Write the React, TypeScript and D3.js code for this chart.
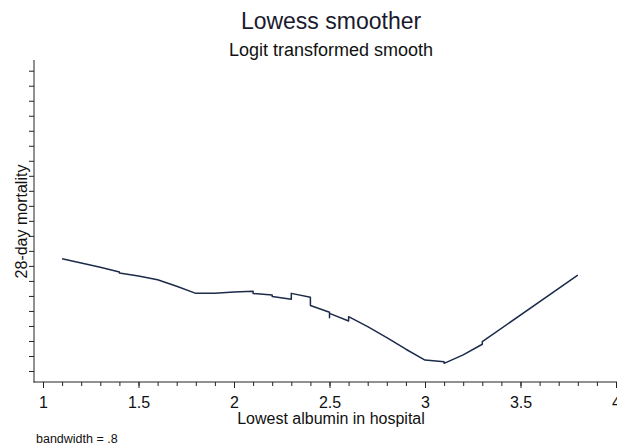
import React, { useEffect, useRef } from "react";
import * as d3 from "d3";

// lowess fit (logit scale); repeated x = steps at ties
const albumin = [1.1, 1.2, 1.3, 1.4, 1.4, 1.5, 1.6, 1.7, 1.8, 1.9, 2.0, 2.1, 2.1, 2.2, 2.2, 2.3, 2.3, 2.4, 2.4, 2.5, 2.5, 2.5, 2.6, 2.6, 2.7, 2.8, 2.9, 3.0, 3.1, 3.1, 3.2, 3.3, 3.3, 3.8];
const logitMortality = [-2.252, -2.281, -2.309, -2.341, -2.347, -2.367, -2.392, -2.436, -2.483, -2.483, -2.474, -2.469, -2.484, -2.494, -2.504, -2.522, -2.483, -2.509, -2.564, -2.609, -2.645, -2.616, -2.667, -2.638, -2.705, -2.778, -2.855, -2.927, -2.938, -2.949, -2.893, -2.822, -2.805, -2.361];

const xMajorTicks = [1, 1.5, 2, 2.5, 3, 3.5, 4];
const xTickLabels = ["1", "1.5", "2", "2.5", "3", "3.5", "4"];
const yTicks = d3.range(21).map((i) => -3 + i * 0.1);

const W = 617;
const H = 445;
const FONT = "'Liberation Sans', Arial, sans-serif";

export default function App() {
  const svgRef = useRef<SVGSVGElement>(null);

  useEffect(() => {
    const svg = d3.select(svgRef.current);
    svg.selectAll("*").remove();

    const x = d3.scaleLinear().domain([1, 4]).range([43, 616]);
    const y = d3.scaleLinear().domain([-3, -1]).range([371, 70.7]);
    const axisLeftX = 34;
    const axisBottomY = 382;

    svg.append("rect").attr("width", W).attr("height", H).attr("fill", "white");

    // titles
    svg.append("text").attr("x", 331).attr("y", 29).attr("text-anchor", "middle")
      .style("font-family", FONT).style("font-size", "23px").attr("fill", "#1a1a2e")
      .text("Lowess smoother");
    svg.append("text").attr("x", 331).attr("y", 56).attr("text-anchor", "middle")
      .style("font-family", FONT).style("font-size", "18px").attr("fill", "#111")
      .text("Logit transformed smooth");

    // y axis (ticks only, no labels)
    const gy = svg.append("g").attr("transform", `translate(${axisLeftX},0)`)
      .call(d3.axisLeft(y).tickValues(yTicks).tickSize(5).tickFormat(() => ""));
    gy.select(".domain").remove();
    gy.selectAll("line").attr("stroke", "#222");
    svg.append("line").attr("x1", axisLeftX).attr("x2", axisLeftX)
      .attr("y1", 60).attr("y2", axisBottomY + 0.5).attr("stroke", "#222");

    // x axis
    const gxMinor = svg.append("g").attr("transform", `translate(0,${axisBottomY})`)
      .call(d3.axisBottom(x).tickValues(d3.range(10, 41).map((d) => d / 10)).tickSize(4).tickFormat(() => ""));
    gxMinor.select(".domain").remove();
    gxMinor.selectAll("line").attr("stroke", "#222");

    const gx = svg.append("g").attr("transform", `translate(0,${axisBottomY})`)
      .call(d3.axisBottom(x).tickValues(xMajorTicks).tickSize(6)
        .tickFormat((d, i) => xTickLabels[i]));
    gx.select(".domain").remove();
    gx.selectAll("line").attr("stroke", "#222");
    gx.selectAll("text").attr("y", 26).attr("dy", 0)
      .style("font-family", FONT).style("font-size", "16px").attr("fill", "#111");
    svg.append("line").attr("x1", axisLeftX - 0.5).attr("x2", W)
      .attr("y1", axisBottomY).attr("y2", axisBottomY).attr("stroke", "#222");

    // axis titles
    svg.append("text").attr("x", 331).attr("y", 424).attr("text-anchor", "middle")
      .style("font-family", FONT).style("font-size", "16px").attr("fill", "#111")
      .text("Lowest albumin in hospital");
    svg.append("text").attr("transform", `translate(27,221.5) rotate(-90)`).attr("text-anchor", "middle")
      .style("font-family", FONT).style("font-size", "16px").attr("fill", "#111")
      .text("28-day mortality");

    // note
    svg.append("text").attr("x", 36).attr("y", 443)
      .style("font-family", FONT).style("font-size", "12.5px").attr("fill", "#111")
      .text("bandwidth = .8");

    // lowess line
    const line = d3.line<number>().x((d) => x(albumin[d])).y((d) => y(logitMortality[d]));
    svg.append("path").datum(d3.range(albumin.length)).attr("d", line)
      .attr("fill", "none").attr("stroke", "#1c2b4a").attr("stroke-width", 1.5)
      .attr("stroke-linejoin", "round");
  }, []);

  return (
    <svg ref={svgRef} width={W} height={H} style={{ position: "absolute", left: 0, top: 0 }} />
  );
}
